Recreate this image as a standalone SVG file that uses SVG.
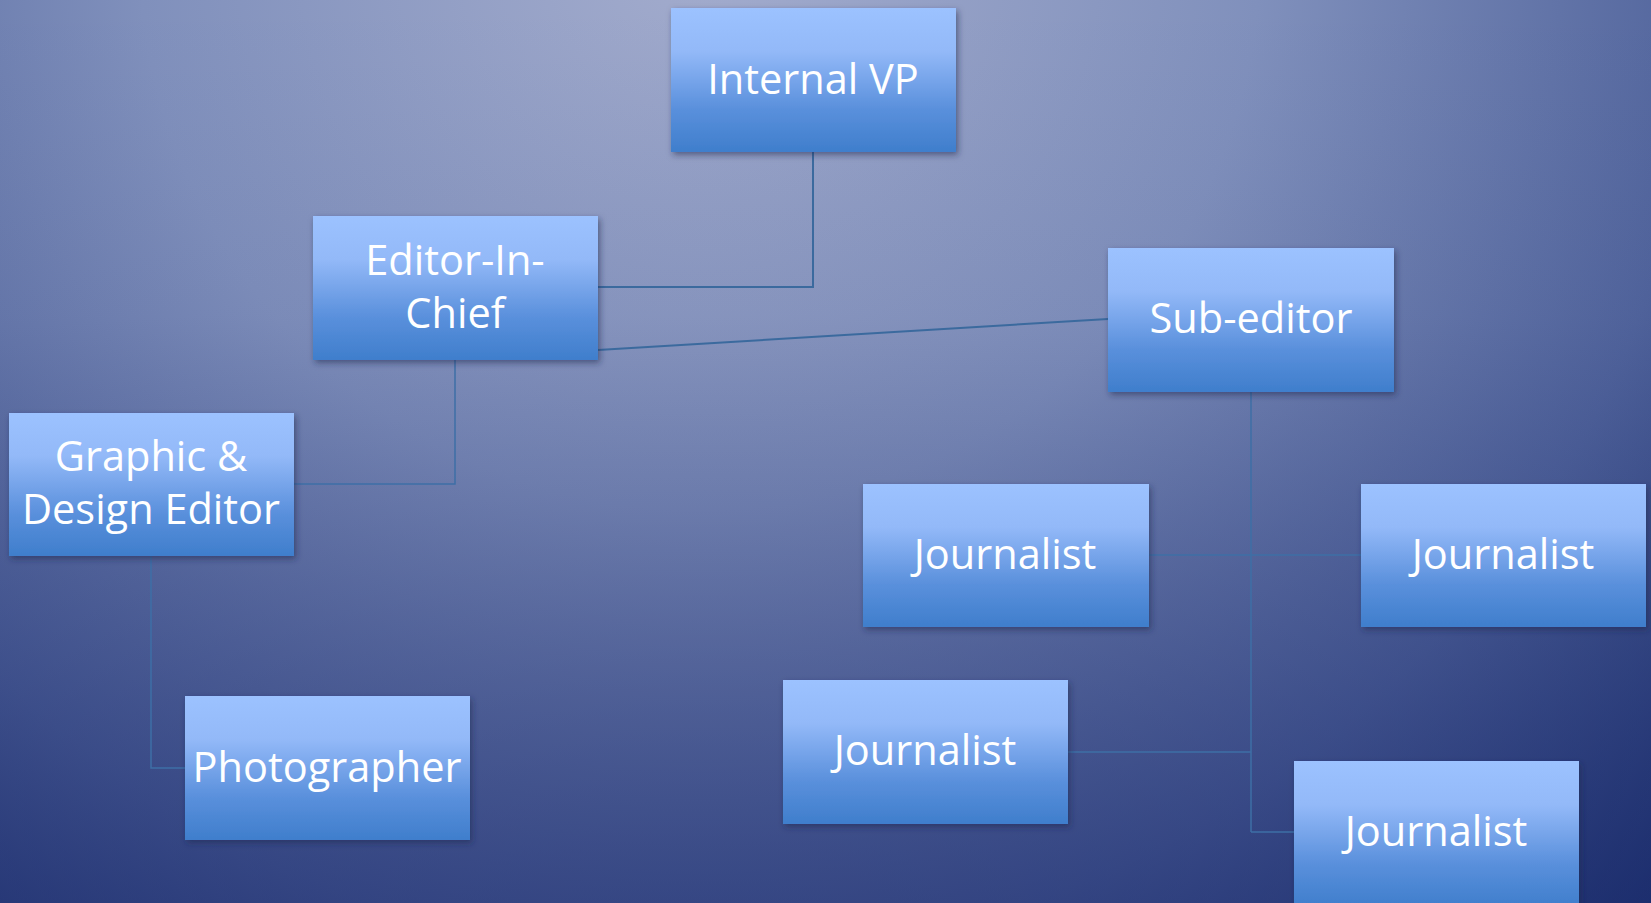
<svg xmlns="http://www.w3.org/2000/svg" width="1651" height="903" viewBox="0 0 1651 903">
<defs>
<radialGradient id="bg" cx="700" cy="-50" r="1400" gradientUnits="userSpaceOnUse">
<stop offset="0" stop-color="#A3ACCD"/>
<stop offset="0.4" stop-color="#8090BC"/>
<stop offset="0.72" stop-color="#52659D"/>
<stop offset="1" stop-color="#1E3270"/>
</radialGradient>
<linearGradient id="shade" x1="0" y1="0" x2="0" y2="1">
<stop offset="0" stop-color="#142366" stop-opacity="0"/>
<stop offset="0.35" stop-color="#142366" stop-opacity="0.05"/>
<stop offset="1" stop-color="#142366" stop-opacity="0.5"/>
</linearGradient>
<linearGradient id="box" x1="0" y1="0" x2="0" y2="1">
<stop offset="0" stop-color="#9CC2FF"/>
<stop offset="0.3" stop-color="#93B9F8"/>
<stop offset="0.7" stop-color="#5A90DC"/>
<stop offset="1" stop-color="#3F7ECC"/>
</linearGradient>
<filter id="sh" x="-10%" y="-10%" width="125%" height="130%">
<feDropShadow dx="2" dy="3" stdDeviation="3" flood-color="#1a2650" flood-opacity="0.55"/>
</filter>
<style>
.n rect{fill:url(#box);filter:url(#sh)}
.n text{font-family:"Open Sans","Noto Sans","DejaVu Sans",sans-serif;font-size:41.5px;fill:#ffffff;text-anchor:middle}
.c{fill:none;stroke:#3B6A9E;stroke-width:2}
.c2{fill:none;stroke:#3E6FA6;stroke-width:1.5}
</style>
</defs>
<rect width="1651" height="903" fill="url(#bg)"/>
<rect width="1651" height="903" fill="url(#shade)"/>
<g id="connectors">
<polyline class="c" points="813,152 813,287 598,287"/>
<line class="c" x1="598" y1="350" x2="1108" y2="319"/>
<polyline class="c2" points="455,360 455,484 294,484"/>
<polyline class="c2" points="151,556 151,768 185,768"/>
<line class="c2" x1="1251" y1="392" x2="1251" y2="832"/>
<line class="c2" x1="1149" y1="555" x2="1361" y2="555"/>
<line class="c2" x1="1068" y1="752" x2="1251" y2="752"/>
<line class="c2" x1="1251" y1="832" x2="1294" y2="832"/>
</g>
<g id="internal-vp" class="n"><rect x="671" y="8" width="285" height="144"/><text x="813" y="94">Internal VP</text></g>
<g id="editor-in-chief" class="n"><rect x="313" y="216" width="285" height="144"/><text x="455" y="275">Editor-In-</text><text x="455" y="328">Chief</text></g>
<g id="sub-editor" class="n"><rect x="1108" y="248" width="286" height="144"/><text x="1251" y="333">Sub-editor</text></g>
<g id="graphic-design-editor" class="n"><rect x="9" y="413" width="285" height="143"/><text x="151" y="471">Graphic &amp;</text><text x="151" y="524">Design Editor</text></g>
<g id="photographer" class="n"><rect x="185" y="696" width="285" height="144"/><text x="327" y="782">Photographer</text></g>
<g id="journalist-1" class="n"><rect x="863" y="484" width="286" height="143"/><text x="1005" y="569">Journalist</text></g>
<g id="journalist-2" class="n"><rect x="1361" y="484" width="285" height="143"/><text x="1503" y="569">Journalist</text></g>
<g id="journalist-3" class="n"><rect x="783" y="680" width="285" height="144"/><text x="925" y="765">Journalist</text></g>
<g id="journalist-4" class="n"><rect x="1294" y="761" width="285" height="146"/><text x="1436" y="846">Journalist</text></g>
</svg>
